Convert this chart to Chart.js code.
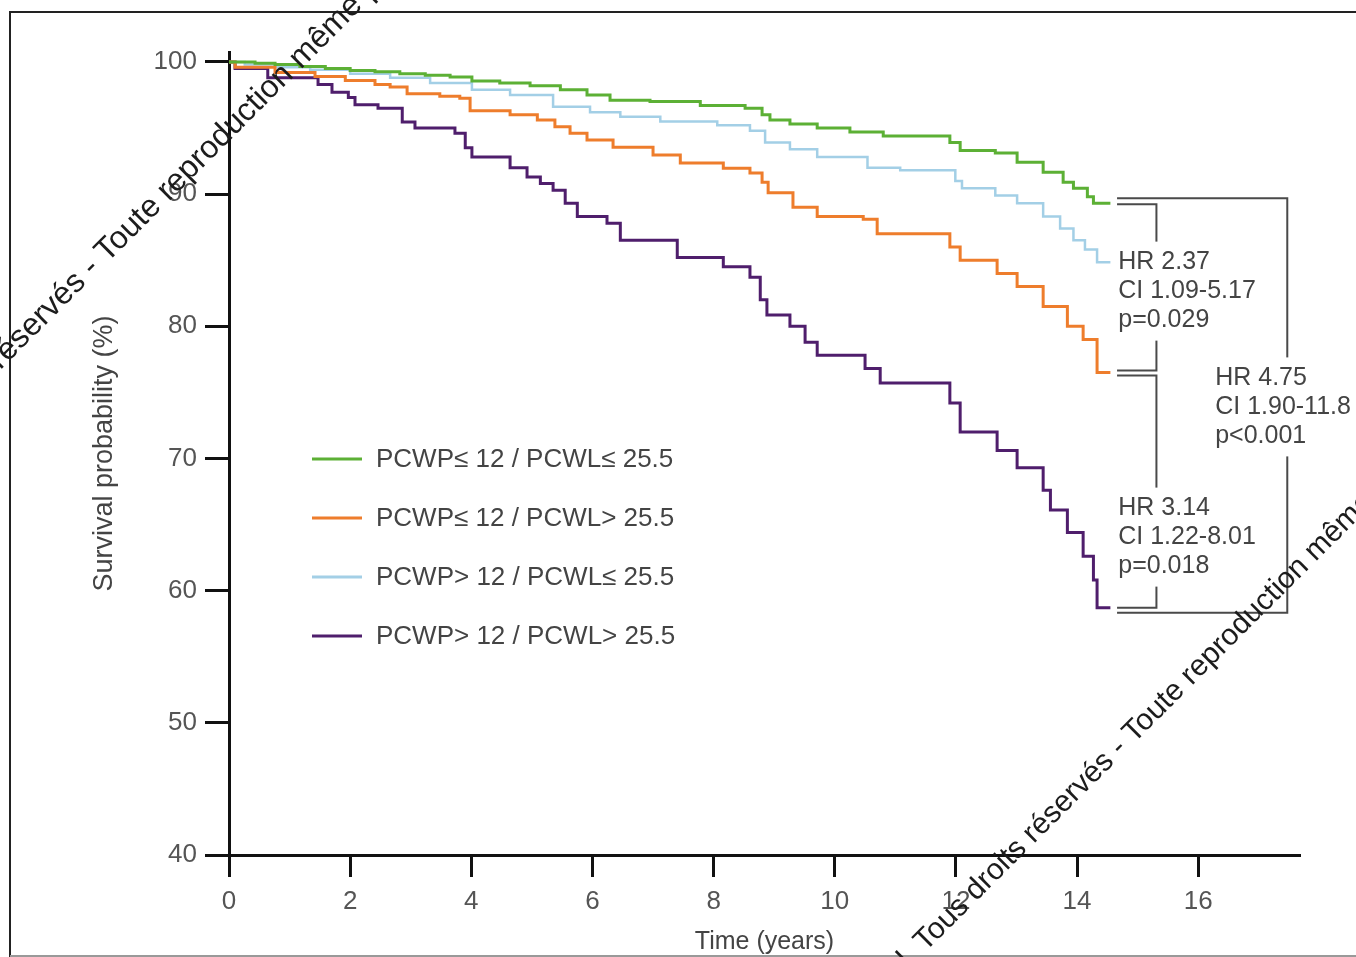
<!DOCTYPE html>
<html>
<head>
<meta charset="utf-8">
<title>Survival by PCWP / PCWL</title>
<script src="https://cdn.jsdelivr.net/npm/chart.js@4.4.1/dist/chart.umd.min.js"></script>
<style>
  html, body { margin: 0; padding: 0; background: #fff; }
  canvas { display: block; }
</style>
</head>
<body>
<canvas id="km" width="1356" height="957"></canvas>
<script>
// Kaplan-Meier estimates: time in years, survival in %
const lowLowTimes = [0, 0.43, 0.76, 1.17, 1.59, 2.0, 2.41, 2.82, 3.24, 3.65, 4.01, 4.47, 4.97, 5.47, 5.91, 6.29, 6.95, 7.78, 8.52, 8.8, 8.93, 9.26, 9.71, 10.25, 10.8, 11.9, 12.07, 12.65, 13.01, 13.44, 13.77, 13.94, 14.17, 14.27, 14.55];
const lowLowSurv  = [100, 99.9, 99.8, 99.65, 99.5, 99.35, 99.25, 99.1, 99.0, 98.85, 98.55, 98.4, 98.2, 97.9, 97.5, 97.1, 97.0, 96.7, 96.5, 96.0, 95.6, 95.3, 95.0, 94.7, 94.4, 93.9, 93.3, 93.1, 92.4, 91.65, 90.9, 90.45, 89.8, 89.3, 89.3];

const lowHighTimes = [0, 0.1, 0.76, 1.42, 1.92, 2.41, 2.66, 2.94, 3.48, 3.81, 3.98, 4.64, 5.09, 5.38, 5.63, 5.91, 6.34, 7.0, 7.45, 8.16, 8.6, 8.8, 8.9, 9.31, 9.71, 10.47, 10.7, 11.9, 12.07, 12.68, 13.01, 13.44, 13.84, 14.1, 14.33, 14.55];
const lowHighSurv  = [100, 99.6, 99.2, 98.9, 98.6, 98.3, 98.1, 97.6, 97.4, 97.25, 96.3, 96.0, 95.6, 95.1, 94.6, 94.1, 93.55, 92.95, 92.35, 91.95, 91.6, 90.9, 90.1, 89.0, 88.3, 88.1, 87.0, 86.0, 85.0, 84.0, 83.0, 81.5, 80.0, 79.0, 76.5, 76.5];

const highLowTimes = [0, 0.26, 0.76, 1.34, 2.0, 2.66, 3.32, 4.01, 4.64, 5.35, 5.96, 6.46, 7.12, 8.06, 8.6, 8.85, 9.26, 9.71, 10.54, 11.08, 11.99, 12.1, 12.65, 13.01, 13.44, 13.72, 13.94, 14.13, 14.33, 14.55];
const highLowSurv  = [100, 99.8, 99.6, 99.4, 99.1, 98.8, 98.4, 97.9, 97.5, 96.6, 96.2, 95.85, 95.5, 95.2, 94.8, 93.9, 93.4, 92.8, 92.0, 91.8, 91.0, 90.45, 89.9, 89.3, 88.3, 87.4, 86.5, 85.8, 84.85, 84.85];

const highHighTimes = [0, 0.1, 0.64, 1.47, 1.7, 1.97, 2.08, 2.46, 2.86, 3.07, 3.73, 3.9, 4.01, 4.64, 4.92, 5.14, 5.35, 5.55, 5.75, 6.24, 6.46, 7.4, 8.16, 8.6, 8.77, 8.88, 9.26, 9.51, 9.71, 10.5, 10.75, 11.9, 12.07, 12.68, 13.01, 13.44, 13.56, 13.84, 14.1, 14.27, 14.33, 14.55];
const highHighSurv  = [100, 99.5, 98.8, 98.3, 97.7, 97.3, 96.75, 96.5, 95.45, 95.0, 94.6, 93.5, 92.8, 92.0, 91.3, 90.8, 90.3, 89.3, 88.3, 87.8, 86.5, 85.2, 84.5, 83.7, 82.0, 80.85, 80.0, 78.8, 77.8, 76.8, 75.7, 74.2, 72.0, 70.6, 69.3, 67.6, 66.1, 64.4, 62.6, 60.8, 58.7, 58.7];

const groupLabels = ['PCWP\u2264 12 / PCWL\u2264 25.5', 'PCWP\u2264 12 / PCWL> 25.5', 'PCWP> 12 / PCWL\u2264 25.5', 'PCWP> 12 / PCWL> 25.5'];
const groupColors = ['#5cb035', '#ee7d2c', '#a3cfe6', '#4f1e6c'];

const xTicks = [0, 2, 4, 6, 8, 10, 12, 14, 16];
const yTicks = [40, 50, 60, 70, 80, 90, 100];

// hazard ratio notes: text lines, left edge (years), vertical centre (%)
const noteLowHigh = { lines: ['HR 2.37', 'CI 1.09-5.17', 'p=0.029'], t: 14.68, v: 82.66 };
const noteHighHigh = { lines: ['HR 3.14', 'CI 1.22-8.01', 'p=0.018'], t: 14.68, v: 64.05 };
const noteOverall = { lines: ['HR 4.75', 'CI 1.90-11.8', 'p<0.001'], t: 16.28, v: 73.9 };

const FONT = '"Liberation Sans", Arial, sans-serif';

function toPoints(times, surv) {
  return times.map((t, i) => ({ x: t, y: surv[i] }));
}

const curves = [
  toPoints(lowLowTimes, lowLowSurv),
  toPoints(lowHighTimes, lowHighSurv),
  toPoints(highLowTimes, highLowSurv),
  toPoints(highHighTimes, highHighSurv)
];

// legend drawn inside the plot, below the curves
const insideLegend = {
  id: 'insideLegend',
  afterDatasetsDraw(chart) {
    const ctx = chart.ctx;
    const area = chart.chartArea;
    const x0 = area.left + 83;
    const y0 = area.top + 407;
    ctx.save();
    ctx.font = '26px ' + FONT;
    ctx.textBaseline = 'middle';
    ctx.fillStyle = '#444';
    chart.data.datasets.forEach((ds, i) => {
      const y = y0 + i * 59;
      ctx.strokeStyle = ds.borderColor;
      ctx.lineWidth = 3;
      ctx.beginPath();
      ctx.moveTo(x0, y);
      ctx.lineTo(x0 + 50, y);
      ctx.stroke();
      ctx.fillText(ds.label, x0 + 64, y + 1);
    });
    ctx.restore();
  }
};

// comparison brackets at the end of the curves with their HR notes
const brackets = {
  id: 'brackets',
  afterDatasetsDraw(chart) {
    const ctx = chart.ctx;
    const xs = chart.scales.x, ys = chart.scales.y;
    const xStart = xs.getPixelForValue(14.66);
    const xInner = xs.getPixelForValue(15.31);
    const xOuter = xs.getPixelForValue(17.47);
    const yA = ys.getPixelForValue(lowLowSurv[lowLowSurv.length - 1]);
    const yB = ys.getPixelForValue(lowHighSurv[lowHighSurv.length - 1]);
    const yC = ys.getPixelForValue(highHighSurv[highHighSurv.length - 1]);

    ctx.save();
    ctx.strokeStyle = '#4a4a4a';
    ctx.lineWidth = 2;
    const bracket = (xr, top, bottom) => {
      ctx.beginPath();
      ctx.moveTo(xStart, top);
      ctx.lineTo(xr, top);
      ctx.lineTo(xr, bottom);
      ctx.lineTo(xStart, bottom);
      ctx.stroke();
    };
    bracket(xOuter, yA - 5, yC + 5);
    bracket(xInner, yA + 1, yB - 2);
    bracket(xInner, yB + 3, yC);

    ctx.font = '25px ' + FONT;
    ctx.textBaseline = 'middle';
    [noteLowHigh, noteHighHigh, noteOverall].forEach(n => {
      const px = xs.getPixelForValue(n.t);
      const py = ys.getPixelForValue(n.v);
      const lh = 29;
      const top = py - lh * n.lines.length / 2;
      const w = Math.max(...n.lines.map(s => ctx.measureText(s).width));
      ctx.fillStyle = '#fff';
      ctx.fillRect(px - 3, top - 6, w + 8, lh * n.lines.length + 12);
      ctx.fillStyle = '#444';
      n.lines.forEach((s, i) => ctx.fillText(s, px, top + lh / 2 + i * lh));
    });
    ctx.restore();
  }
};

// frame and the diagonal copyright notices printed over the figure
const overlay = {
  id: 'overlay',
  afterDraw(chart) {
    const ctx = chart.ctx;
    ctx.save();
    ctx.strokeStyle = '#222';
    ctx.lineWidth = 2;
    ctx.beginPath();
    ctx.moveTo(10, chart.height);
    ctx.lineTo(10, 12);
    ctx.lineTo(chart.width, 12);
    ctx.stroke();
    ctx.strokeStyle = '#999';
    ctx.beginPath();
    ctx.moveTo(10, 956);
    ctx.lineTo(chart.width, 956);
    ctx.stroke();

    ctx.fillStyle = '#1c1c1c';
    ctx.textBaseline = 'middle';
    const diag = (text, x, y, size) => {
      ctx.save();
      ctx.font = size + 'px ' + FONT;
      ctx.translate(x, y);
      ctx.rotate(-Math.PI / 4);
      ctx.fillText(text, 0, 0);
      ctx.restore();
    };
    diag('r\u00e9serv\u00e9s - Toute reproduction m\u00eame partielle', -6, 364, 32);
    diag('l. Tous droits r\u00e9serv\u00e9s - Toute reproduction m\u00eame partielle', 903, 963, 30);
    ctx.restore();
  }
};

new Chart(document.getElementById('km'), {
  type: 'line',
  data: {
    datasets: curves.map((pts, i) => ({
      label: groupLabels[i],
      data: pts,
      borderColor: groupColors[i],
      backgroundColor: groupColors[i],
      borderWidth: i === 2 ? 2.5 : 3,
      stepped: true,
      pointRadius: 0,
      fill: false
    }))
  },
  options: {
    responsive: false,
    animation: false,
    devicePixelRatio: 1,
    layout: { padding: { left: 0, top: 52, right: 56, bottom: 0 } },
    plugins: { legend: { display: false }, tooltip: { enabled: false } },
    scales: {
      x: {
        type: 'linear',
        min: 0,
        max: 17.68,
        afterBuildTicks: s => { s.ticks = xTicks.map(v => ({ value: v })); },
        afterFit: s => { s.height = 102; },
        border: { color: '#111', width: 3 },
        grid: { drawOnChartArea: false, tickLength: 22, tickWidth: 3, color: '#111' },
        ticks: { padding: 9, color: '#555', font: { family: FONT, size: 26 } },
        title: {
          display: true,
          text: 'Time (years)',
          color: '#444',
          padding: { top: 0, bottom: 0 },
          font: { family: FONT, size: 25 }
        }
      },
      y: {
        min: 40,
        max: 100.75,
        afterBuildTicks: s => { s.ticks = yTicks.map(v => ({ value: v })); },
        afterFit: s => { s.width = 229; },
        border: { color: '#111', width: 3 },
        grid: { drawOnChartArea: false, tickLength: 24, tickWidth: 3, color: '#111' },
        ticks: { padding: 8, color: '#555', font: { family: FONT, size: 26 } },
        title: {
          display: true,
          text: 'Survival probability (%)',
          color: '#444',
          padding: { top: 88, bottom: 0 },
          font: { family: FONT, size: 27 }
        }
      }
    }
  },
  plugins: [insideLegend, brackets, overlay]
});
</script>
</body>
</html>
